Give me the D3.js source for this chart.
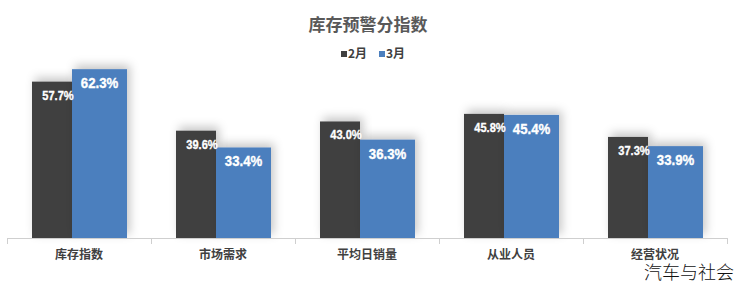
<html>
    <head>
        <meta charset="utf-8">
        <script src="https://d3js.org/d3.v7.min.js"></script>
        <title>库存预警分指数</title>
        <style>
            body { margin: 0; background: #fff; }
        </style>
    </head>
    <body>
        <div class="viz"></div>
        <script type="text/javascript">
            var categories = ["库存指数", "市场需求", "平均日销量", "从业人员", "经营状况"];
            var seriesNames = ["2月", "3月"];
            var feb = [57.7, 39.6, 43.0, 45.8, 37.3];
            var mar = [62.3, 33.4, 36.3, 45.4, 33.9];
            var colors = ["#404040", "#4c7fbe"];

            var vizWidth = 745;
            var vizHeight = 285;
            var baseY = 238;
            var cjk = "'Noto Sans CJK SC', 'Noto Sans', sans-serif";
            var numFont = "'Liberation Sans', Arial, sans-serif";

            var svg = d3.select("div")
                        .append("svg")
                        .attr("width", vizWidth)
                        .attr("height", vizHeight);

            // soft glow above the bars
            var filter = svg.append("defs").append("filter")
                .attr("id", "glow")
                .attr("x", "-30%").attr("y", "-30%")
                .attr("width", "160%").attr("height", "160%");
            filter.append("feDropShadow")
                .attr("dx", 3).attr("dy", -4)
                .attr("stdDeviation", 5)
                .attr("flood-color", "#000")
                .attr("flood-opacity", 0.22);

            var x0 = d3.scaleBand()
                    .domain(categories)
                    .range([7, 727]);

            // unequal widths: dark bar narrower than blue
            var barStart = [25 / 144, 65 / 144];
            var barWidth = [40 / 144, 55 / 144];

            var yScale = d3.scaleLinear()
                    .domain([0, 70])
                    .range([baseY, baseY - 70 * 2.71]);

            var groups = svg.selectAll("g.cat")
                    .data(categories)
                    .enter()
                    .append("g")
                    .attr("class", "cat")
                    .attr("transform", function(d){ return "translate(" + x0(d) + ",0)"; });

            [feb, mar].forEach(function(vals, s){
                groups.append("rect")
                    .attr("x", x0.bandwidth() * barStart[s])
                    .attr("width", x0.bandwidth() * barWidth[s])
                    .attr("y", function(d, i){ return yScale(vals[i]); })
                    .attr("height", function(d, i){ return baseY - yScale(vals[i]); })
                    .attr("fill", colors[s])
                    .attr("filter", "url(#glow)");
            });

            // value labels (condensed look via horizontal squeeze)
            var labelCfg = [
                {vals: feb, dx: 6, dy: 18, size: 13.5, sx: 0.82},
                {vals: mar, dx: 0, dy: 19, size: 15, sx: 0.88}
            ];
            labelCfg.forEach(function(c, s){
                groups.append("text")
                    .attr("transform", function(d, i){
                        var cx = x0.bandwidth() * (barStart[s] + barWidth[s] / 2) + c.dx;
                        return "translate(" + cx + "," + (yScale(c.vals[i]) + c.dy) + ") scale(" + c.sx + ",1)";
                    })
                    .attr("text-anchor", "middle")
                    .attr("fill", "white")
                    .attr("stroke", "white")
                    .attr("stroke-width", 0.35)
                    .style("font-family", numFont)
                    .style("font-weight", "bold")
                    .style("font-size", c.size + "px")
                    .text(function(d, i){ return c.vals[i].toFixed(1) + "%"; });
            });

            // axis with ticks at band edges
            var edge = d3.scaleLinear().domain([0, categories.length]).range(x0.range());
            var axis = svg.append("g")
                .attr("transform", "translate(0," + baseY + ")")
                .call(d3.axisBottom(edge).ticks(categories.length).tickFormat("").tickSize(6).tickSizeOuter(0));
            axis.selectAll("path, line").attr("stroke", "#cfcfcf");

            svg.selectAll("text.cat")
                .data(categories)
                .enter()
                .append("text")
                .attr("x", function(d){ return x0(d) + x0.bandwidth() / 2; })
                .attr("y", 259)
                .attr("text-anchor", "middle")
                .attr("fill", "#404040")
                .style("font-family", cjk)
                .style("font-weight", "bold")
                .style("font-size", "12px")
                .text(function(d){ return d; });

            // title
            svg.append("text")
                .attr("x", 368)
                .attr("y", 31)
                .attr("text-anchor", "middle")
                .attr("fill", "#595959")
                .style("font-family", cjk)
                .style("font-weight", "bold")
                .style("font-size", "17px")
                .text("库存预警分指数");

            // legend
            var legend = svg.selectAll("g.leg")
                .data(seriesNames)
                .enter()
                .append("g")
                .attr("transform", function(d, i){ return "translate(" + (341 + i * 38) + ",58)"; });
            legend.append("rect")
                .attr("x", 0).attr("y", -7)
                .attr("width", 6).attr("height", 6)
                .attr("fill", function(d, i){ return colors[i]; });
            legend.append("text")
                .attr("x", 7).attr("y", 0)
                .attr("fill", "#404040")
                .style("font-family", cjk)
                .style("font-weight", "bold")
                .style("font-size", "12px")
                .text(function(d){ return d; });

            // watermark
            svg.append("text")
                .attr("x", 734)
                .attr("y", 279)
                .attr("text-anchor", "end")
                .attr("fill", "#111")
                .style("font-family", cjk)
                .style("font-weight", "300")
                .style("font-size", "18px")
                .text("汽车与社会");
        </script>
    </body>
</html>
